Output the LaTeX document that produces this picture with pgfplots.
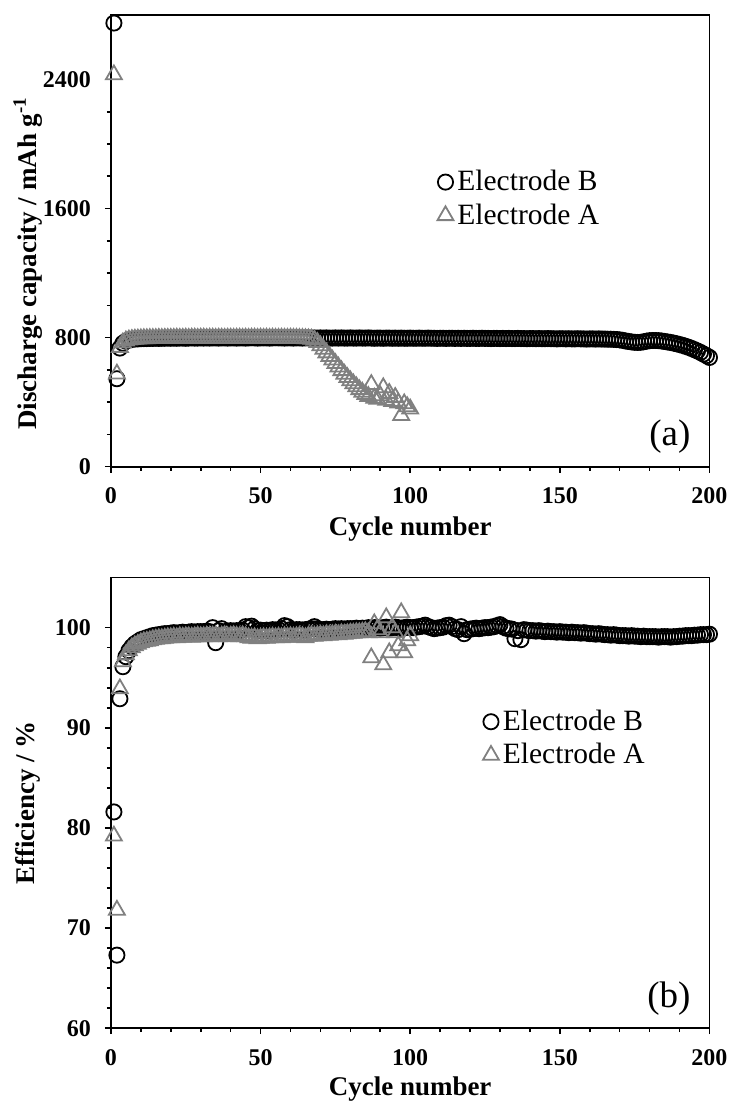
\documentclass[border=0pt]{standalone}
\usepackage{fontspec}
\setmainfont{Liberation Serif}
\usepackage{pgfplots}
\pgfplotsset{compat=1.18}
\definecolor{agray}{RGB}{128,128,128}

\pgfplotsset{
  panel/.style={
    scale only axis, width=299.5pt,
    xmin=0, xmax=200, xtick={0,50,...,200}, minor x tick num=4,
    tick pos=left, tick align=outside,
    major tick length=3pt, minor tick length=2pt,
    axis line style={line width=0.9pt},
    every tick/.append style={line width=0.8pt, black},
    clip=false,
    ticklabel style={font=\bfseries\fontsize{12}{14}\selectfont},
    xticklabel style={yshift=-4pt},
    yticklabel style={xshift=-3.5pt},
    /pgf/number format/assume math mode=true,
    /pgf/number format/1000 sep={},
    xlabel={Cycle number},
    xlabel style={font=\bfseries\fontsize{13.5}{16}\selectfont, anchor=center},
    ylabel style={font=\bfseries\fontsize{13.5}{16}\selectfont, anchor=center},
    legend style={draw=none, fill=none, font=\fontsize{14.75}{17}\selectfont,
      anchor=west, row sep=1pt, inner sep=0pt, cells={anchor=west}},
    legend image code/.code={\draw[mark repeat=2,mark phase=2,##1] plot coordinates {(0pt,0pt) (3pt,0pt) (6pt,0pt)};},
  },
  eB/.style={only marks, mark=o, mark size=3.8pt, black, line width=0.9pt},
  eA/.style={only marks, mark=triangle, mark size=4.6pt, agray, line width=0.9pt},
}

\begin{document}
\begin{tikzpicture}
% (a) discharge capacity
\begin{axis}[panel, name=top, height=226pt,
  ymin=0, ymax=2800, ytick={0,800,1600,2400}, minor y tick num=3,
  ylabel={Discharge capacity / mAh g\textsuperscript{-1}},
  xlabel style={at={(axis description cs:0.5,-0.139)}},
  ylabel style={at={(axis description cs:-0.1386,0.45)}},
  legend style={at={(axis description cs:0.545,0.593)}},
]
\addplot[eB] coordinates {
(1,2750)(2,545)(3,735)(4,765)(5,778)(6,785)(7,789)(8,791)(9,792)(10,793)
(11,794)(12,794)(13,795)(14,795)(15,796)(16,795)(17,796)(18,796)(19,797)(20,796)
(21,797)(22,796)(23,797)(24,797)(25,796)(26,797)(27,798)(28,797)(29,797)(30,798)
(31,797)(32,798)(33,797)(34,798)(35,798)(36,797)(37,798)(38,798)(39,797)(40,798)
(41,798)(42,797)(43,798)(44,798)(45,797)(46,798)(47,799)(48,798)(49,797)(50,798)
(51,798)(52,798)(53,797)(54,798)(55,799)(56,798)(57,798)(58,797)(59,798)(60,798)
(61,797)(62,798)(63,798)(64,797)(65,798)(66,798)(67,797)(68,798)(69,797)(70,798)
(71,797)(72,798)(73,797)(74,797)(75,798)(76,797)(77,798)(78,797)(79,797)(80,798)
(81,797)(82,797)(83,798)(84,797)(85,797)(86,798)(87,797)(88,796)(89,797)(90,797)
(91,796)(92,797)(93,797)(94,796)(95,797)(96,796)(97,797)(98,796)(99,796)(100,797)
(101,796)(102,796)(103,797)(104,796)(105,796)(106,797)(107,796)(108,796)(109,795)(110,796)
(111,796)(112,795)(113,796)(114,796)(115,795)(116,796)(117,795)(118,796)(119,795)(120,795)
(121,796)(122,795)(123,795)(124,796)(125,795)(126,795)(127,794)(128,795)(129,795)(130,794)
(131,795)(132,794)(133,795)(134,794)(135,794)(136,795)(137,794)(138,794)(139,793)(140,794)
(141,794)(142,793)(143,794)(144,793)(145,793)(146,794)(147,793)(148,793)(149,792)(150,793)
(151,793)(152,792)(153,793)(154,792)(155,792)(156,793)(157,792)(158,792)(159,791)(160,792)
(161,792)(162,791)(163,792)(164,791)(165,791)(166,790)(167,790)(168,789)(169,788)(170,786)
(171,783)(172,779)(173,776)(174,773)(175,771)(176,770)(177,771)(178,774)(179,778)(180,781)
(181,782)(182,782)(183,781)(184,779)(185,776)(186,773)(187,770)(188,766)(189,762)(190,757)
(191,752)(192,746)(193,740)(194,733)(195,725)(196,717)(197,708)(198,698)(199,688)(200,677)
};
\addlegendentry{Electrode B}
\addplot[eA] coordinates {
(1,2430)(2,575)(3,740)(4,768)(5,780)(6,786)(7,789)(8,791)(9,792)(10,793)
(11,794)(12,794)(13,795)(14,795)(15,795)(16,796)(17,795)(18,796)(19,796)(20,796)
(21,796)(22,797)(23,796)(24,796)(25,797)(26,796)(27,797)(28,797)(29,796)(30,797)
(31,797)(32,796)(33,797)(34,797)(35,796)(36,797)(37,797)(38,796)(39,797)(40,797)
(41,796)(42,797)(43,797)(44,796)(45,797)(46,796)(47,797)(48,797)(49,796)(50,797)
(51,796)(52,797)(53,796)(54,797)(55,796)(56,796)(57,797)(58,796)(59,796)(60,797)
(61,796)(62,796)(63,795)(64,795)(65,794)(66,793)(67,791)(68,785)(69,770)(70,750)
(71,728)(72,706)(73,684)(74,662)(75,640)(76,618)(77,596)(78,574)(79,553)(80,533)
(81,514)(82,496)(83,478)(84,462)(85,448)(86,436)(87,510)(88,425)(89,418)(90,440)
(91,490)(92,412)(93,455)(94,405)(95,430)(96,395)(97,318)(98,390)(99,372)(100,358)
};
\addlegendentry{Electrode A}
\node[anchor=east, font=\fontsize{18.5}{22}\selectfont] at (axis description cs:0.98,0.066) {(a)};
\end{axis}

% (b) efficiency
\begin{axis}[panel, name=bot, at={(0,-281pt)}, anchor=south west, height=225.5pt,
  ymin=60, ymax=105, ytick={60,70,80,90,100}, minor y tick num=4,
  ylabel={Efficiency / \%},
  xlabel style={at={(axis description cs:0.5,-0.135)}},
  ylabel style={at={(axis description cs:-0.1386,0.5)}},
  legend style={at={(axis description cs:0.621,0.643)}},
]
\addplot[eB] coordinates {
(1,81.6)(2,67.3)(3,92.9)(4,96.1)(5,97.1)(6,97.7)(7,98.1)(8,98.4)(9,98.6)(10,98.8)
(11,98.9)(12,99.0)(13,99.1)(14,99.2)(15,99.25)(16,99.3)(17,99.35)(18,99.4)(19,99.4)(20,99.45)
(21,99.5)(22,99.45)(23,99.5)(24,99.55)(25,99.5)(26,99.55)(27,99.6)(28,99.55)(29,99.6)(30,99.6)
(31,99.6)(32,99.65)(33,99.6)(34,100.0)(35,98.5)(36,99.7)(37,99.9)(38,99.6)(39,99.65)(40,99.7)
(41,99.65)(42,99.7)(43,99.7)(44,99.75)(45,100.1)(46,100.0)(47,100.15)(48,99.9)(49,99.7)(50,99.75)
(51,99.7)(52,99.75)(53,99.7)(54,99.8)(55,99.75)(56,99.8)(57,99.9)(58,100.2)(59,100.1)(60,99.8)
(61,99.75)(62,99.8)(63,99.8)(64,99.75)(65,99.8)(66,99.85)(67,99.9)(68,100.1)(69,99.9)(70,99.8)
(71,99.8)(72,99.85)(73,99.8)(74,99.85)(75,99.9)(76,99.85)(77,99.9)(78,99.85)(79,99.9)(80,99.9)
(81,99.9)(82,99.95)(83,99.9)(84,99.95)(85,99.9)(86,100.0)(87,99.95)(88,100.0)(89,100.0)(90,99.95)
(91,100.0)(92,100.05)(93,99.95)(94,100.0)(95,100.05)(96,100.0)(97,99.9)(98,100.0)(99,100.05)(100,100.0)
(101,100.0)(102,100.05)(103,100.1)(104,100.15)(105,100.25)(106,100.1)(107,100.0)(108,99.9)(109,99.95)(110,100.0)
(111,100.05)(112,100.2)(113,100.25)(114,100.1)(115,99.9)(116,99.8)(117,100.1)(118,99.4)(119,99.8)(120,99.85)
(121,99.9)(122,99.95)(123,99.9)(124,99.95)(125,100.0)(126,100.0)(127,100.05)(128,100.1)(129,100.2)(130,100.3)
(131,100.1)(132,99.95)(133,99.9)(134,99.85)(135,98.9)(136,99.7)(137,98.8)(138,99.8)(139,99.75)(140,99.7)
(141,99.7)(142,99.65)(143,99.7)(144,99.65)(145,99.6)(146,99.65)(147,99.6)(148,99.6)(149,99.55)(150,99.6)
(151,99.55)(152,99.55)(153,99.5)(154,99.55)(155,99.5)(156,99.5)(157,99.45)(158,99.5)(159,99.45)(160,99.4)
(161,99.4)(162,99.35)(163,99.4)(164,99.35)(165,99.3)(166,99.3)(167,99.25)(168,99.3)(169,99.25)(170,99.2)
(171,99.2)(172,99.2)(173,99.15)(174,99.2)(175,99.15)(176,99.15)(177,99.1)(178,99.15)(179,99.1)(180,99.1)
(181,99.1)(182,99.1)(183,99.05)(184,99.1)(185,99.1)(186,99.1)(187,99.05)(188,99.1)(189,99.1)(190,99.15)
(191,99.15)(192,99.2)(193,99.2)(194,99.2)(195,99.25)(196,99.25)(197,99.3)(198,99.3)(199,99.3)(200,99.35)
};
\addlegendentry{Electrode B}
\addplot[eA] coordinates {
(1,79.2)(2,71.8)(3,93.9)(4,96.6)(5,97.3)(6,97.7)(7,98.0)(8,98.2)(9,98.35)(10,98.5)
(11,98.6)(12,98.65)(13,98.7)(14,98.8)(15,98.85)(16,98.9)(17,98.9)(18,98.95)(19,99.0)(20,99.0)
(21,99.05)(22,99.0)(23,99.1)(24,99.05)(25,99.1)(26,99.1)(27,99.05)(28,99.1)(29,99.15)(30,99.1)
(31,99.1)(32,99.15)(33,99.1)(34,99.15)(35,99.2)(36,99.1)(37,99.15)(38,99.2)(39,99.1)(40,99.15)
(41,99.2)(42,99.15)(43,99.1)(44,99.2)(45,99.1)(46,99.0)(47,98.95)(48,99.0)(49,98.9)(50,98.95)
(51,99.0)(52,98.95)(53,99.0)(54,99.05)(55,99.0)(56,99.05)(57,99.0)(58,99.1)(59,99.05)(60,99.1)
(61,99.05)(62,99.1)(63,99.15)(64,99.1)(65,99.0)(66,99.15)(67,99.2)(68,99.15)(69,99.2)(70,99.25)
(71,99.2)(72,99.3)(73,99.25)(74,99.3)(75,99.35)(76,99.3)(77,99.4)(78,99.35)(79,99.4)(80,99.45)
(81,99.45)(82,99.5)(83,99.5)(84,99.55)(85,99.6)(86,99.5)(87,97.0)(88,100.4)(89,99.8)(90,99.5)
(91,96.3)(92,101.0)(93,97.5)(94,100.0)(95,99.5)(96,98.2)(97,101.5)(98,97.5)(99,98.7)(100,99.2)
};
\addlegendentry{Electrode A}
\node[anchor=east, font=\fontsize{18.5}{22}\selectfont] at (axis description cs:0.98,0.066) {(b)};
\end{axis}
\path (-55.5pt,233.5pt) rectangle (310pt,-320.5pt);
\end{tikzpicture}
\end{document}
